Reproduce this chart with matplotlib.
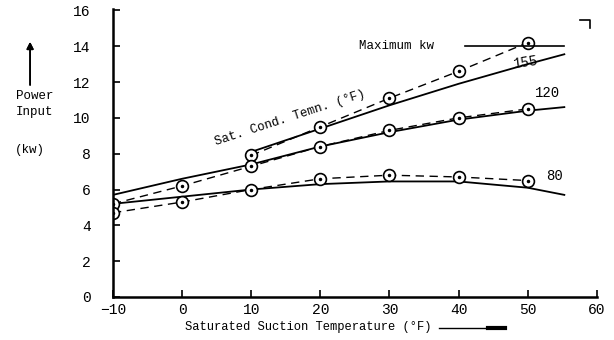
import matplotlib.pyplot as plt
from matplotlib.lines import Line2D

# measured points (dashed curves with circles)
temp = [-10, 0, 10, 20, 30, 40, 50]
kw_155 = [None, None, 7.9, 9.5, 11.1, 12.6, 14.2]
kw_120 = [5.2, 6.2, 7.3, 8.4, 9.3, 10.0, 10.5]
kw_80 = [4.7, 5.3, 6.0, 6.6, 6.8, 6.7, 6.5]

# fitted curves (solid)
fit_x_155 = [10, 20, 30, 40, 50, 55.3]
fit_155 = [8.1, 9.4, 10.7, 11.9, 13.0, 13.55]
fit_x = [-10, 0, 10, 20, 30, 40, 50, 55.3]
fit_120 = [5.7, 6.6, 7.4, 8.4, 9.2, 9.9, 10.4, 10.6]
fit_80 = [5.2, 5.6, 6.0, 6.3, 6.45, 6.45, 6.1, 5.7]

max_kw = 14
max_x = [40.9, 55.3]

xticks = [-10, 0, 10, 20, 30, 40, 50, 60]
yticks = [0, 2, 4, 6, 8, 10, 12, 14, 16]

font = "Liberation Mono"
plt.rcParams["font.family"] = font

fig = plt.figure(figsize=(6.14, 3.40), dpi=100)
ax = fig.add_axes([0.184, 0.1265, 0.788, 0.843])

# solid fitted lines
ax.plot(fit_x_155, fit_155, color="black", lw=1.3)
ax.plot(fit_x, fit_120, color="black", lw=1.3)
ax.plot(fit_x, fit_80, color="black", lw=1.3)

# dashed measured lines with circle markers
for ys in (kw_155, kw_120, kw_80):
    xs = [t for t, v in zip(temp, ys) if v is not None]
    vs = [v for v in ys if v is not None]
    ax.plot(xs, vs, color="black", lw=1.0, ls=(0, (6, 4)),
            marker="o", ms=8.5, mfc="white", mec="black", mew=1.2)
    ax.plot(xs, vs, ls="none", marker=".", ms=3, color="black")

# maximum kw line
ax.plot(max_x, [max_kw, max_kw], color="black", lw=1.2)
ax.text(31, max_kw, "Maximum kw", ha="center", va="center", fontsize=9)

ax.text(49.8, 13.1, "155", ha="center", va="center", fontsize=10, rotation=8)
ax.text(52.9, 11.4, "120", ha="center", va="center", fontsize=10)
ax.text(53.9, 6.75, "80", ha="center", va="center", fontsize=10)
ax.text(15.6, 10.0, "Sat. Cond. Temn. (°F)", ha="center", va="center",
        fontsize=9, rotation=18)

ax.set_xlim(-10, 60)
ax.set_ylim(0, 16)
ax.set_xticks(xticks)
ax.set_yticks(yticks)
ax.set_xticklabels(["\u221210" if t == -10 else str(t) for t in xticks])
ax.tick_params(direction="in", length=5, width=1.2, labelsize=10.5)
ax.tick_params(axis="y", pad=16)
ax.tick_params(axis="x", pad=4)
ax.spines["top"].set_visible(False)
ax.spines["right"].set_visible(False)
ax.spines["left"].set_linewidth(1.8)
ax.spines["bottom"].set_linewidth(1.8)
ax.spines["left"].set_bounds(0, 16.1)

# y label with arrow
fig.text(0.057, 0.694, "Power\nInput", ha="center", va="center",
         fontsize=9, linespacing=1.45)
fig.text(0.049, 0.56, "(kw)", ha="center", va="center", fontsize=9)
fig.add_artist(plt.annotate("", xy=(0.049, 0.885), xytext=(0.049, 0.742),
                            xycoords="figure fraction",
                            arrowprops=dict(arrowstyle="-|>", color="black",
                                            lw=1.2, mutation_scale=10)))

# x label with arrow
fig.text(0.302, 0.038, "Saturated Suction Temperature (°F)", ha="left",
         va="center", fontsize=8.7)
fig.add_artist(Line2D([0.715, 0.822], [0.035, 0.035], color="black", lw=1.0))
fig.add_artist(Line2D([0.795, 0.822], [0.035, 0.035], color="black", lw=3.0))

# corner mark top right
fig.add_artist(Line2D([0.945, 0.961, 0.961], [0.94, 0.94, 0.918],
                      color="black", lw=1.2))

fig.savefig("out.png", dpi=100)
